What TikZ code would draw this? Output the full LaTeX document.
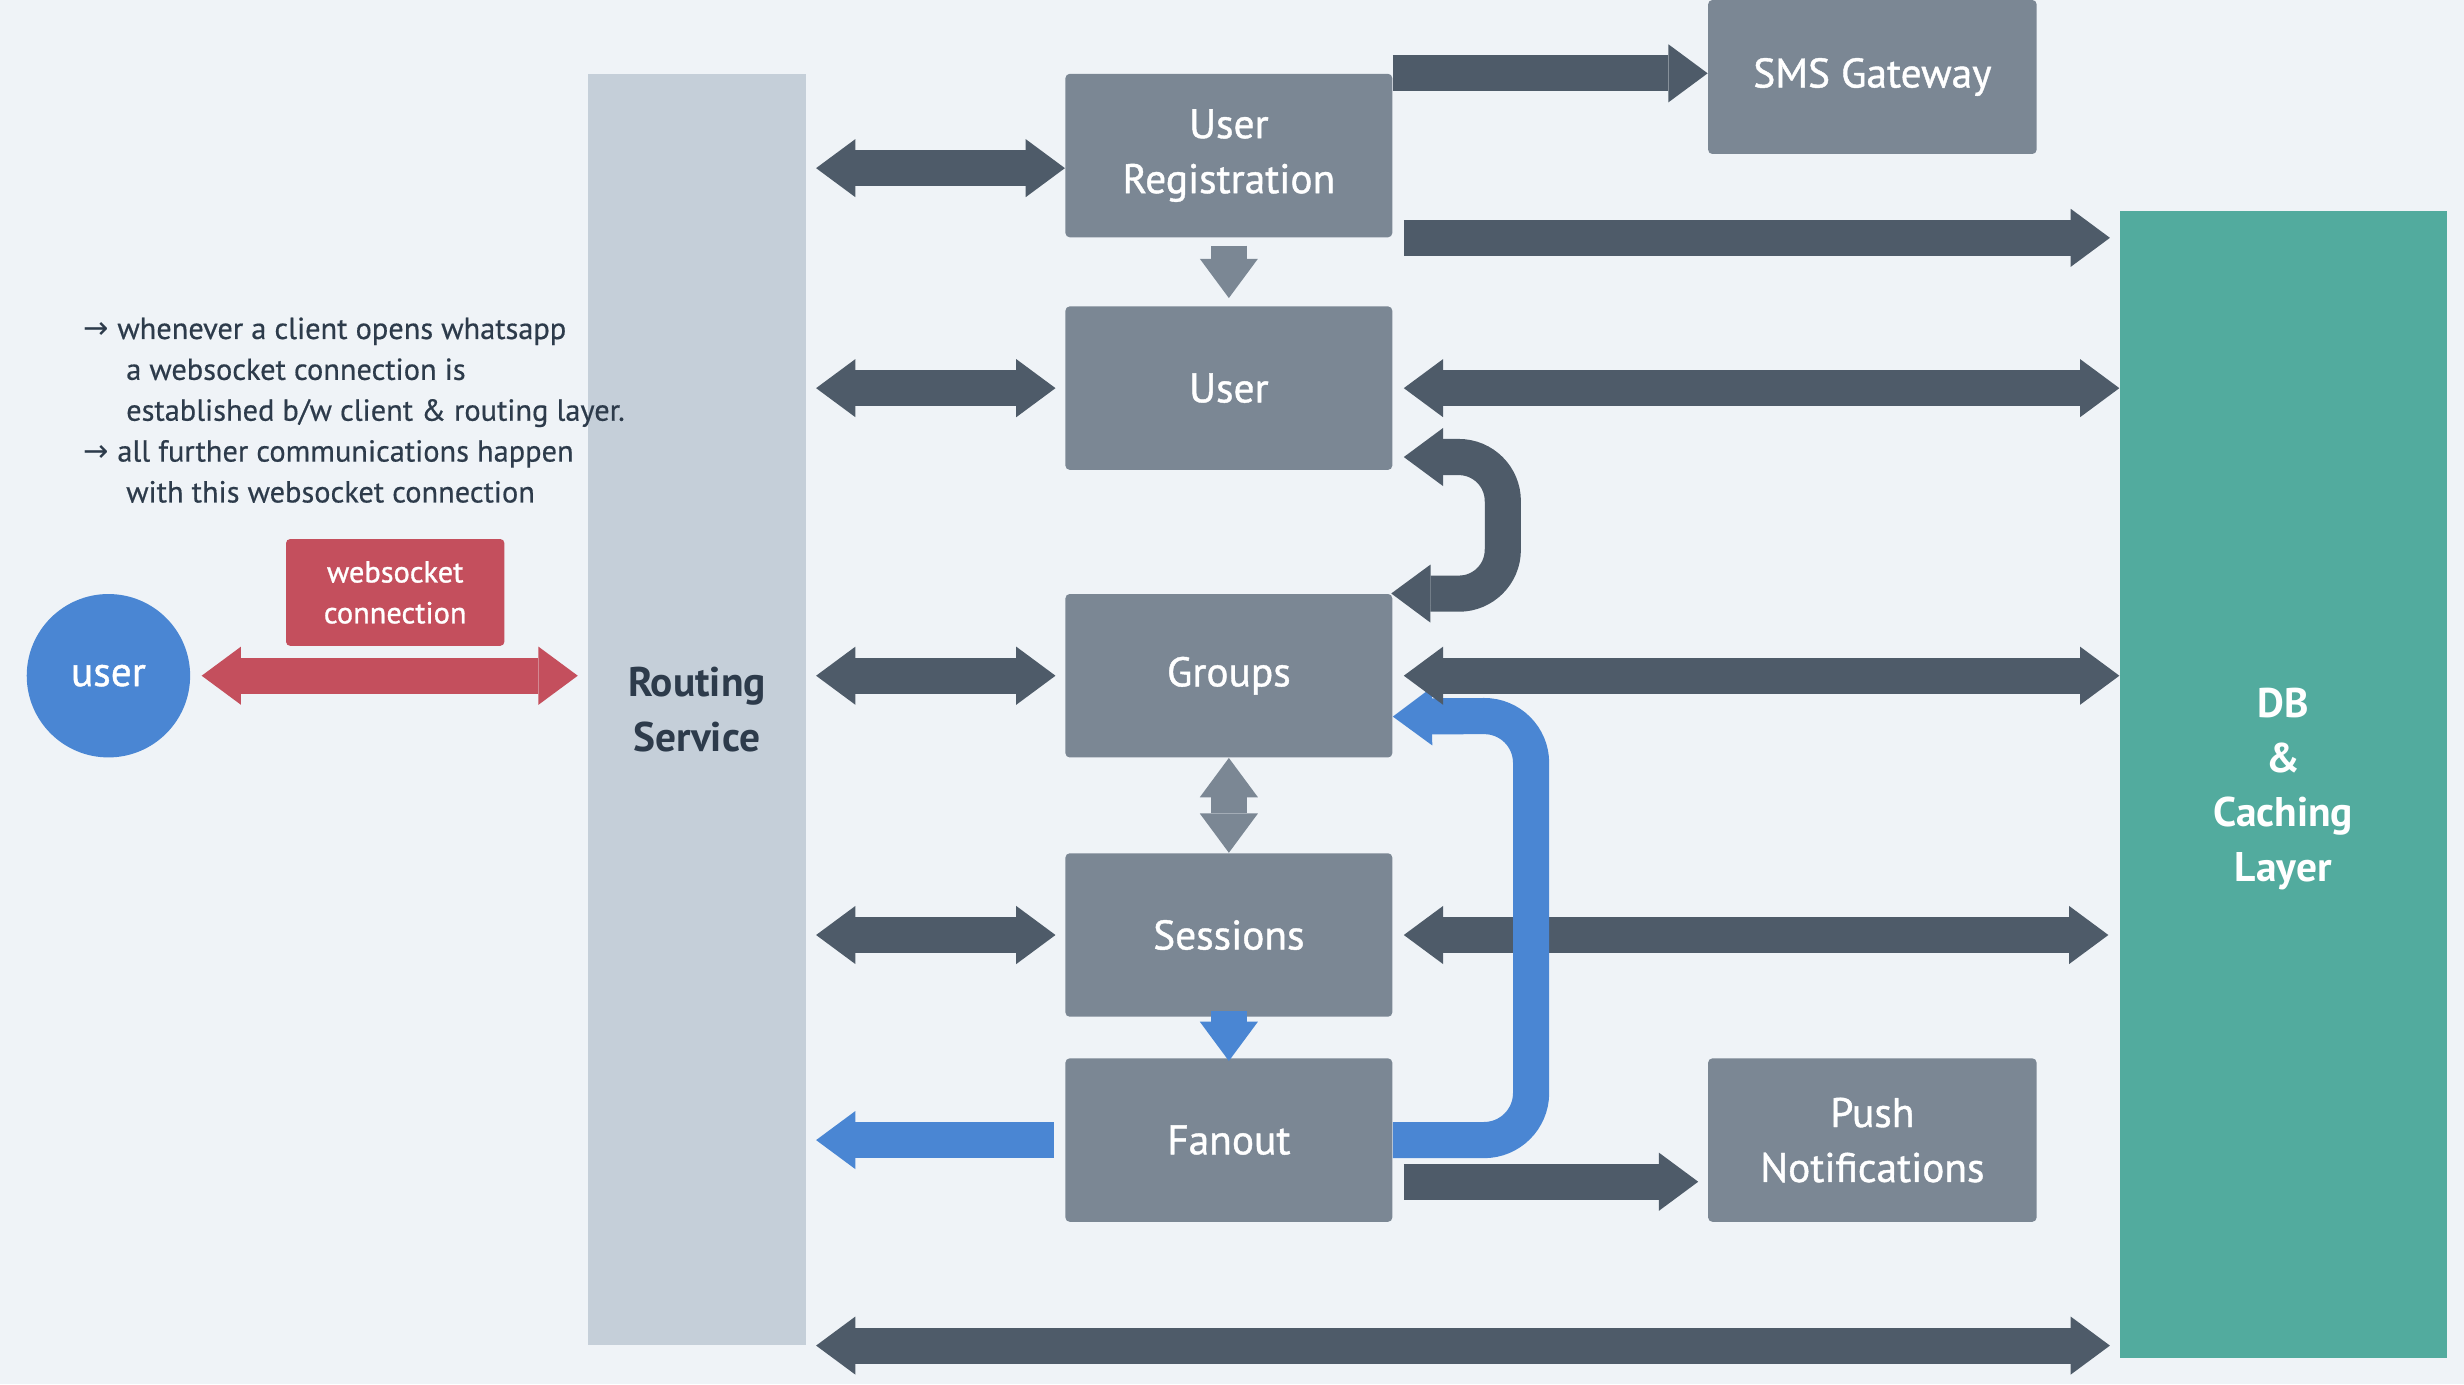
\documentclass[tikz,border=0pt]{standalone}
\usepackage{fontspec}
\setmainfont{PT Sans}
\newfontfamily\medfont[FakeBold=1]{PT Sans}
\newfontfamily\notefont[FakeBold=0.5]{PT Sans}
\newfontfamily\symfont{DejaVu Sans}
\usepackage{tikz}
\usetikzlibrary{positioning, calc, arrows.meta}

\definecolor{bg}{HTML}{EFF3F7}
\definecolor{routegray}{HTML}{C5CFD9}
\definecolor{boxgray}{HTML}{7B8794}
\definecolor{arrowdark}{HTML}{4E5B69}
\definecolor{dbteal}{HTML}{52AB9E}
\definecolor{wsred}{HTML}{C44F5D}
\definecolor{blueline}{HTML}{4A86D3}
\definecolor{textdark}{HTML}{2D3B4B}

\tikzset{
  box/.style={fill=boxgray, text=white, rounded corners=1.5pt, inner sep=0pt,
    minimum width=4.16cm, minimum height=2.08cm, align=center,
    font=\medfont\fontsize{15}{19.9}\selectfont},
  route/.style={fill=routegray, text=textdark, inner sep=0pt,
    minimum width=2.78cm, minimum height=16.18cm, align=center,
    font=\fontsize{15}{19.9}\selectfont\bfseries},
  db/.style={fill=dbteal, text=white, inner sep=0pt,
    minimum width=4.16cm, minimum height=14.6cm, align=center,
    font=\fontsize{15}{19.9}\selectfont\bfseries},
  client/.style={circle, fill=blueline, text=white, inner sep=0pt,
    minimum size=2.08cm, font=\medfont\fontsize{15}{18}\selectfont},
  wsbox/.style={fill=wsred, text=white, rounded corners=1.5pt, inner sep=0pt,
    minimum width=2.78cm, minimum height=1.36cm, align=center,
    font=\medfont\fontsize{11}{14.8}\selectfont},
  notes/.style={text=textdark, inner sep=0pt, align=left,
    font=\notefont\fontsize{11}{14.8}\selectfont},
  fat/.style={line width=0.46cm, draw=arrowdark,
    >={Triangle[length=0.5cm, width=0.74cm, line width=0pt]}},
}

\begin{document}
\begin{tikzpicture}[x=0.02cm, y=-0.02cm]
  \useasboundingbox (0,0) rectangle (1568,880.8);
  \fill[bg] (0,0) rectangle (1568,880.8);

  % services
  \node[route] (route) at (443.5,451.5) {Routing\\Service};
  \node[db] (db) at (1453,499) {\\[-0.2cm]DB\\\&\\Caching\\Layer};
  \node[box] (ureg) at (782,99) {User\\Registration};
  \node[box] (user) at (782,247) {User};
  \node[box] (groups) at (782,430) {Groups};
  \node[box] (sessions) at (782,595) {Sessions};
  \node[box] (fanout) at (782,725.5) {Fanout};
  \node[box, minimum width=4.18cm, minimum height=1.96cm] (sms) at (1191.5,49) {SMS Gateway};
  \node[box, minimum width=4.18cm] (push) at (1191.5,725.5) {Push\\Notifications};

  % client side
  \node[client] (client) at (69,430) {user};
  \node[wsbox] (ws) at (251.5,377) {websocket\\connection};
  \node[notes, anchor=west] (notes) at (53,261) {{\symfont →} whenever a client opens whatsapp\\
    \hspace*{0.54cm}a websocket connection is\\
    \hspace*{0.54cm}established b/w client \& routing layer.\\
    {\symfont →} all further communications happen\\
    \hspace*{0.54cm}with this websocket connection};

  \draw[fat, draw=wsred, <->] ($(client.east)+(7,0)$) -- ($(route.west|-client)+(-6,0)$);

  % routing <-> services
  \draw[fat, <->] ($(route.east|-ureg)+(6,8)$) -- ($(ureg.west)+(0,8)$);
  \draw[fat, <->] ($(route.east|-user)+(6,0)$) -- ($(user.west)+(-6,0)$);
  \draw[fat, <->] ($(route.east|-groups)+(6,0)$) -- ($(groups.west)+(-6,0)$);
  \draw[fat, <->] ($(route.east|-sessions)+(6,0)$) -- ($(sessions.west)+(-6,0)$);
  \draw[fat, draw=blueline, ->] ($(fanout.west)+(-7,0)$) -- ($(route.east|-fanout)+(6,0)$);
  \draw[fat, <->] ($(route.south east)+(6,0)$) -- ($(db.west|-route.south)+(-6,0)$);

  % between services
  \draw[fat, draw=boxgray, ->] ($(ureg.south)+(0,5)$) -- ($(user.north)+(0,-5)$);
  \draw[fat, draw=boxgray, <->] (groups.south) -- (sessions.north);
  \draw[fat, draw=blueline, ->] ($(sessions.south)+(0,-4)$) -- ($(fanout.north)+(0,2)$);
  \draw[fat, <->, rounded corners=0.56cm] ($(user.south east)+(7,-8.5)$) -- ++(63,0)
    -- ++(0,87) -- ($(groups.north east)+(-1,0)$);

  % services -> db and others
  \draw[fat, ->] (ureg.north east) -- (sms.west|-ureg.north east);
  \draw[fat, ->] ($(ureg.south east)+(7,0)$) -- ($(db.west|-ureg.south)+(-6,0)$);
  \draw[fat, <->] ($(user.east)+(7,0)$) -- (db.west|-user);
  \draw[fat, <->] ($(sessions.east)+(7,0)$) -- ($(db.west|-sessions)+(-7,0)$);
  \draw[fat, ->] ($(fanout.east)+(7,26.5)$) -- ($(push.west)+(-6,26.5)$);
  \draw[fat, draw=blueline, ->, rounded corners=0.6cm] (fanout.east) -- ++(88,0)
    -- ++(0,-270) -- ($(groups.east)+(0,26)$);
  \draw[fat, <->] ($(groups.east)+(7,0)$) -- (db.west|-groups);
\end{tikzpicture}
\end{document}
